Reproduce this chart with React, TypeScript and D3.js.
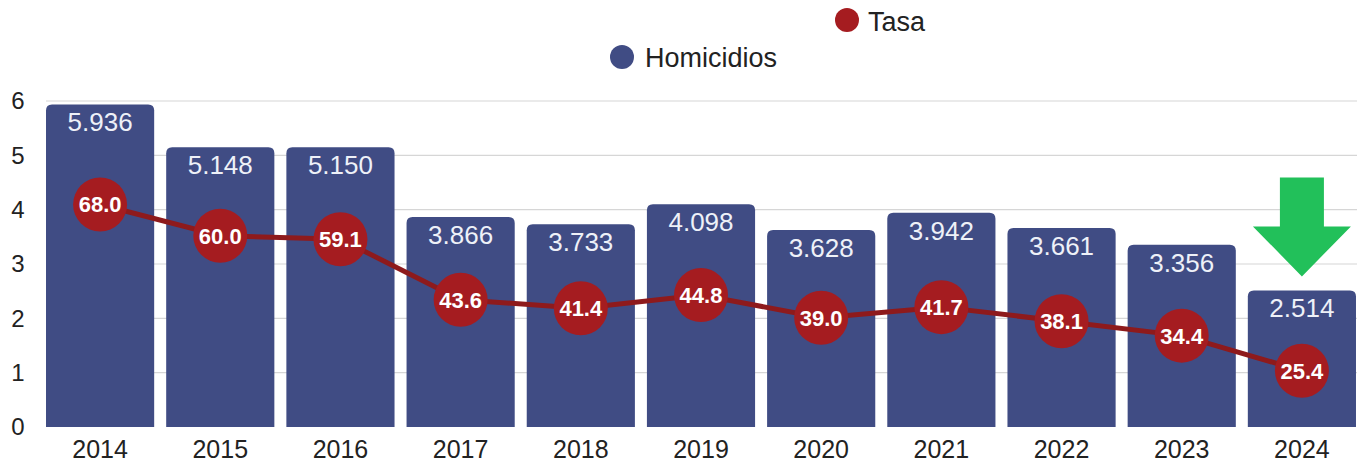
import React from "react";
import * as d3 from "d3";

const years = ["2014","2015","2016","2017","2018","2019","2020","2021","2022","2023","2024"];
const homicidios = [5.936, 5.148, 5.150, 3.866, 3.733, 4.098, 3.628, 3.942, 3.661, 3.356, 2.514];
const tasa = [68.0, 60.0, 59.1, 43.6, 41.4, 44.8, 39.0, 41.7, 38.1, 34.4, 25.4];
const yTicks = [0, 1, 2, 3, 4, 5, 6];

const W = 1361, H = 466;
const FONT = "'Liberation Sans', Arial, Helvetica, sans-serif";

export default function App() {
  const x = d3.scaleBand<string>().domain(years).range([40, 1362]).paddingInner(0.1).paddingOuter(0.05);
  const y = d3.scaleLinear().domain([0, 6]).range([427, 101]);
  const y2 = d3.scaleLinear().domain([11, 94.5]).range([427, 101]);
  const bw = x.bandwidth();
  const cx = (d: string) => (x(d) as number) + bw / 2;

  const line = d3.line<number>().x((_, i) => cx(years[i])).y((t) => y2(t));

  const barPath = (x0: number, top: number, w: number, bottom: number, r: number) =>
    `M${x0},${bottom}V${top + r}Q${x0},${top} ${x0 + r},${top}H${x0 + w - r}Q${x0 + w},${top} ${x0 + w},${top + r}V${bottom}Z`;

  // arrow above last bar
  const last = years[years.length - 1];
  const ax = cx(last);
  const lastTop = y(homicidios[homicidios.length - 1]);
  const tip = lastTop - 14;
  const headBase = tip - 50;
  const shaftTop = headBase - 49;
  const arrow = `M${ax - 22},${shaftTop}H${ax + 22}V${headBase}H${ax + 49}L${ax},${tip}L${ax - 49},${headBase}H${ax - 22}Z`;

  return (
    <svg width={W} height={H} style={{ position: "absolute", left: 0, top: 0, background: "#fff" }} fontFamily={FONT}>
      {/* legend */}
      <circle cx={847} cy={20} r={12} fill="#a51c20" />
      <text x={868} y={31} fontSize={27} fill="#222">Tasa</text>
      <circle cx={622} cy={57} r={12} fill="#404c84" />
      <text x={645} y={67} fontSize={27} fill="#222">Homicidios</text>

      {/* grid */}
      {yTicks.filter((t) => t > 0).map((t) => (
        <line key={t} x1={46} x2={1357} y1={y(t)} y2={y(t)} stroke="#d6d6d6" strokeWidth={1.2} />
      ))}
      {yTicks.map((t) => (
        <text key={t} x={18} y={y(t)} dy="0.35em" textAnchor="middle" fontSize={24} fill="#222">{t}</text>
      ))}

      {/* bars */}
      {years.map((yr, i) => (
        <g key={yr}>
          <path d={barPath(x(yr) as number, y(homicidios[i]), bw, y(0), 6)} fill="#404c84" />
          <text x={cx(yr)} y={y(homicidios[i]) + 27} textAnchor="middle" fontSize={26} fill="#eef1f8">
            {homicidios[i].toFixed(3)}
          </text>
          <text x={cx(yr)} y={458} textAnchor="middle" fontSize={25} fill="#222">{yr}</text>
        </g>
      ))}

      {/* arrow */}
      <path d={arrow} fill="#22c05a" />

      {/* tasa line */}
      <path d={line(tasa) || ""} fill="none" stroke="#8e1a1c" strokeWidth={5} />
      {tasa.map((t, i) => (
        <g key={i}>
          <circle cx={cx(years[i])} cy={y2(t)} r={27} fill="#a51c20" />
          <text x={cx(years[i])} y={y2(t)} dy="0.36em" textAnchor="middle" fontSize={22} fontWeight="bold" fill="#fff">
            {t.toFixed(1)}
          </text>
        </g>
      ))}
    </svg>
  );
}
